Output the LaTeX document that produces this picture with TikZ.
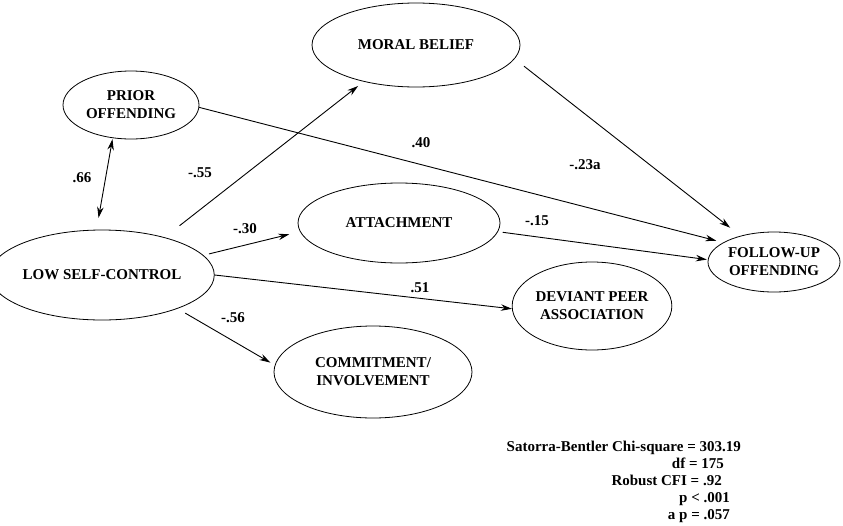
\documentclass[tikz,border=0pt]{standalone}
\usepackage{fontspec}
\setmainfont{Liberation Serif}
\usetikzlibrary{arrows.meta,shapes.geometric}

\tikzset{
  construct/.style={ellipse, draw, line width=0.8pt, inner sep=0pt, align=center,
    font=\bfseries\fontsize{15}{18}\selectfont},
  coef/.style={inner sep=0pt, font=\bfseries\fontsize{15}{18}\selectfont},
  fitstat/.style={anchor=base east, inner sep=0pt, font=\bfseries\fontsize{15}{17}\selectfont},
  effect/.style={->, line width=0.9pt},
}

\begin{document}
\begin{tikzpicture}[line cap=round,line join=round,>={Stealth[length=11pt,width=6.5pt]},x=1pt,y=-1pt]
\useasboundingbox (0,0) rectangle (843,525);

\node[construct, minimum width=136pt, minimum height=68pt] (prior) at (131,105) {PRIOR\\OFFENDING};
\node[construct, minimum width=208pt, minimum height=84pt] (moral) at (416,45) {MORAL BELIEF};
\node[construct, minimum width=192pt, minimum height=90pt] (low) at (102,275) {LOW SELF-CONTROL};
\node[construct, minimum width=202pt, minimum height=80pt] (attach) at (399,223) {ATTACHMENT};
\node[construct, minimum width=156pt, minimum height=88pt] (deviant) at (592,306) {DEVIANT PEER\\ASSOCIATION};
\node[construct, minimum width=198pt, minimum height=92pt] (commit) at (373,372) {COMMITMENT/\\INVOLVEMENT};
\node[construct, minimum width=132pt, minimum height=60pt] (follow) at (774,262) {FOLLOW-UP\\OFFENDING};

% paths
\draw[effect, <->, shorten <=1pt, shorten >=12pt] (prior.241) -- (low.97);
\draw[effect, shorten <=19pt, shorten >=7pt] (low.31) -- (moral.215);
\draw[effect, shorten <=6pt, shorten >=11pt] (low.11) -- (attach.185);
\draw[effect] (low.0) -- (deviant.182);
\draw[effect, shorten <=9pt, shorten >=5pt] (low.-24) -- (commit.176);
\draw[effect, shorten >=7pt] (prior.-2) -- (follow.159);
\draw[effect, shorten <=12pt, shorten >=13pt] (moral.-8) -- (follow.142);
\draw[effect, shorten <=5pt, shorten >=1pt] (attach.-5) -- (follow.178);

% coefficients
\node[coef] (r66) at (82,178) {.66};
\node[coef] (n55) at (200,173) {-.55};
\node[coef] (n30) at (245,229) {-.30};
\node[coef] (p51) at (420,288) {.51};
\node[coef] (n56) at (233,318) {-.56};
\node[coef] (p40) at (421,143) {.40};
\node[coef] (n23) at (585,165) {-.23a};
\node[coef] (n15) at (537,221) {-.15};

% fit statistics
\node[fitstat] (chisq) at (741,451) {Satorra-Bentler Chi-square = 303.19};
\node[fitstat] (df) at (724,468) {df = 175};
\node[fitstat] (cfi) at (722,485) {Robust CFI = .92};
\node[fitstat] (pval) at (730,502) {p < .001};
\node[fitstat] (apval) at (730,519) {a p = .057};
\end{tikzpicture}
\end{document}
